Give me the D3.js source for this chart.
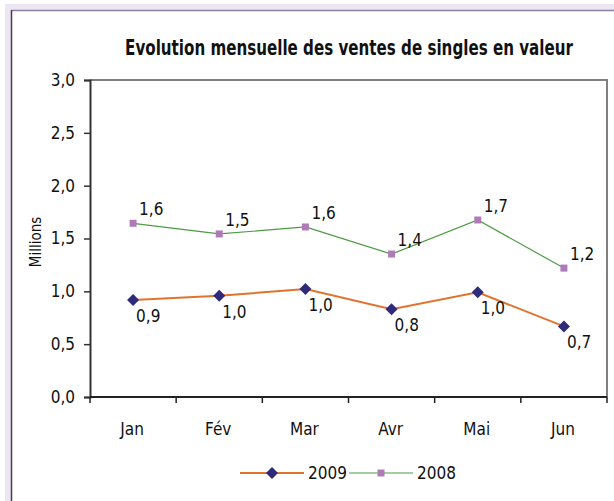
<!DOCTYPE html>
<html>
<head>
<meta charset="utf-8">
<script src="https://cdn.jsdelivr.net/npm/d3@7"></script>
<style>
  html, body { margin: 0; padding: 0; background: #fff; }
  svg { display: block; font-family: "Liberation Sans Narrow", "DejaVu Sans Condensed", "Roboto", sans-serif; }
</style>
</head>
<body>
<div id="chart"></div>
<script>
// Chart data
const months = ['Jan', 'Fév', 'Mar', 'Avr', 'Mai', 'Jun'];
const ventes2009 = [0.918, 0.958, 1.022, 0.830, 0.991, 0.668];
const ventes2008 = [1.644, 1.543, 1.609, 1.353, 1.675, 1.220];
const yTicks = [0, 0.5, 1, 1.5, 2, 2.5, 3];

const W = 614, H = 501;
const plot = { left: 90, right: 607, top: 80, bottom: 397 };

const fr = d3.formatLocale({ decimal: ',', thousands: ' ', grouping: [3], currency: ['', '€'] });
const fmt = fr.format('.1f');

const svg = d3.select('#chart')
    .append('svg')
    .attr('width', W)
    .attr('height', H);

// Soft glow + outer frame
svg.append('rect')
    .attr('x', 8).attr('y', 7).attr('width', W).attr('height', H)
    .attr('fill', 'none').attr('stroke', '#ece6f2').attr('stroke-width', 6);
svg.append('rect')
    .attr('x', 11).attr('y', 10).attr('width', W).attr('height', H)
    .attr('fill', '#fff');
svg.append('line')
    .attr('x1', 11).attr('x2', W).attr('y1', 10.5).attr('y2', 10.5)
    .attr('stroke', '#8f819e').attr('stroke-width', 1.5);
svg.append('line')
    .attr('x1', 11.5).attr('x2', 11.5).attr('y1', 10).attr('y2', H)
    .attr('stroke', '#4a3856').attr('stroke-width', 1.5);

// Title, squeezed horizontally to the reference width
const title = svg.append('text')
    .attr('x', 0)
    .attr('y', 0)
    .attr('text-anchor', 'middle')
    .style('font-size', '21px')
    .style('font-weight', 'bold')
    .style('fill', '#111')
    .text('Evolution mensuelle des ventes de singles en valeur');
const tw = title.node().getComputedTextLength();
const sx = Math.min(1, 448 / tw);
title.attr('transform', `translate(349,55) scale(${sx},1)`);

// Scales
const x = d3.scaleBand()
    .domain(months)
    .range([plot.left, plot.right]);

const y = d3.scaleLinear()
    .domain([0, 3])
    .range([plot.bottom, plot.top]);

// Plot area border (top + right)
svg.append('path')
    .attr('d', `M${plot.left},${plot.top}H${plot.right}V${plot.bottom}`)
    .attr('fill', 'none')
    .attr('stroke', '#7f7f7f')
    .attr('stroke-width', 2);

// Y axis
const yAxis = svg.append('g')
    .attr('transform', `translate(${plot.left},0)`)
    .call(d3.axisLeft(y).tickValues(yTicks).tickFormat(fmt).tickSize(6).tickPadding(9));
yAxis.select('.domain').attr('stroke', '#333').attr('stroke-width', 2);
yAxis.selectAll('.tick line').attr('stroke', '#333').attr('stroke-width', 1.5);
yAxis.selectAll('.tick text').style('font-size', '17px').style('fill', '#111')
    .style('font-family', '"Liberation Sans Narrow", "DejaVu Sans Condensed", sans-serif');

// X axis: ticks on band boundaries
const xAxis = svg.append('g')
    .attr('transform', `translate(0,${plot.bottom})`);
xAxis.append('line')
    .attr('x1', plot.left).attr('x2', plot.right)
    .attr('stroke', '#222').attr('stroke-width', 2);
const bounds = months.map(m => x(m)).concat([plot.right]);
xAxis.selectAll('.xtick')
    .data(bounds)
    .enter()
    .append('line')
    .attr('class', 'xtick')
    .attr('x1', d => d).attr('x2', d => d)
    .attr('y1', 0).attr('y2', 6)
    .attr('stroke', '#222').attr('stroke-width', 1.5);
xAxis.selectAll('.xlabel')
    .data(months)
    .enter()
    .append('text')
    .attr('class', 'xlabel')
    .attr('x', d => x(d) + x.bandwidth() / 2 - 1)
    .attr('y', 38)
    .attr('text-anchor', 'middle')
    .style('font-size', '17px')
    .style('fill', '#111')
    .text(d => d);

// Y label
svg.append('text')
    .attr('transform', 'translate(41,242) rotate(-90)')
    .attr('text-anchor', 'middle')
    .style('font-size', '15px')
    .style('fill', '#111')
    .text('Millions');

const cx = m => x(m) + x.bandwidth() / 2;
const line = d3.line()
    .x(d => cx(d.m))
    .y(d => y(d.v));

const s2009 = months.map((m, i) => ({ m, v: ventes2009[i] }));
const s2008 = months.map((m, i) => ({ m, v: ventes2008[i] }));

// 2008 series
svg.append('path')
    .datum(s2008)
    .attr('d', line)
    .attr('fill', 'none')
    .attr('stroke', '#4f9a45')
    .attr('stroke-width', 1.2);
svg.selectAll('.sq')
    .data(s2008)
    .enter()
    .append('rect')
    .attr('class', 'sq')
    .attr('x', d => cx(d.m) - 3.5)
    .attr('y', d => y(d.v) - 3.5)
    .attr('width', 7).attr('height', 7)
    .attr('fill', '#b07ab8');

// 2009 series
svg.append('path')
    .datum(s2009)
    .attr('d', line)
    .attr('fill', 'none')
    .attr('stroke', '#e0742e')
    .attr('stroke-width', 2);
svg.selectAll('.dm')
    .data(s2009)
    .enter()
    .append('path')
    .attr('class', 'dm')
    .attr('d', 'M0,-6L6,0L0,6L-6,0Z')
    .attr('transform', d => `translate(${cx(d.m)},${y(d.v)})`)
    .attr('fill', '#2f2a7a');

// Data labels
svg.selectAll('.lbl08')
    .data(s2008)
    .enter()
    .append('text')
    .attr('class', 'lbl08')
    .attr('x', d => cx(d.m) + 6)
    .attr('y', d => y(d.v) - 8)
    .style('font-size', '17px')
    .style('fill', '#111')
    .text(d => fmt(d.v));

svg.selectAll('.lbl09')
    .data(s2009)
    .enter()
    .append('text')
    .attr('class', 'lbl09')
    .attr('x', d => cx(d.m) + 3)
    .attr('y', d => y(d.v) + 22)
    .style('font-size', '17px')
    .style('fill', '#111')
    .text(d => fmt(d.v));

// Legend
const legend = svg.append('g').attr('transform', 'translate(0,473)');
const legendItems = [
    { name: '2009', x0: 240, color: '#e0742e', w: 2, mark: 'diamond' },
    { name: '2008', x0: 349, color: '#4f9a45', w: 1.2, mark: 'square' }
];
legendItems.forEach(it => {
    legend.append('line')
        .attr('x1', it.x0).attr('x2', it.x0 + 64)
        .attr('stroke', it.color).attr('stroke-width', it.w);
    if (it.mark === 'diamond') {
        legend.append('path')
            .attr('d', 'M0,-6L6,0L0,6L-6,0Z')
            .attr('transform', `translate(${it.x0 + 32},0)`)
            .attr('fill', '#2f2a7a');
    } else {
        legend.append('rect')
            .attr('x', it.x0 + 28.5).attr('y', -3.5)
            .attr('width', 7).attr('height', 7)
            .attr('fill', '#b07ab8');
    }
    legend.append('text')
        .attr('x', it.x0 + 68)
        .attr('y', 6)
        .style('font-size', '17px')
        .style('fill', '#111')
        .text(it.name);
});
</script>
</body>
</html>
